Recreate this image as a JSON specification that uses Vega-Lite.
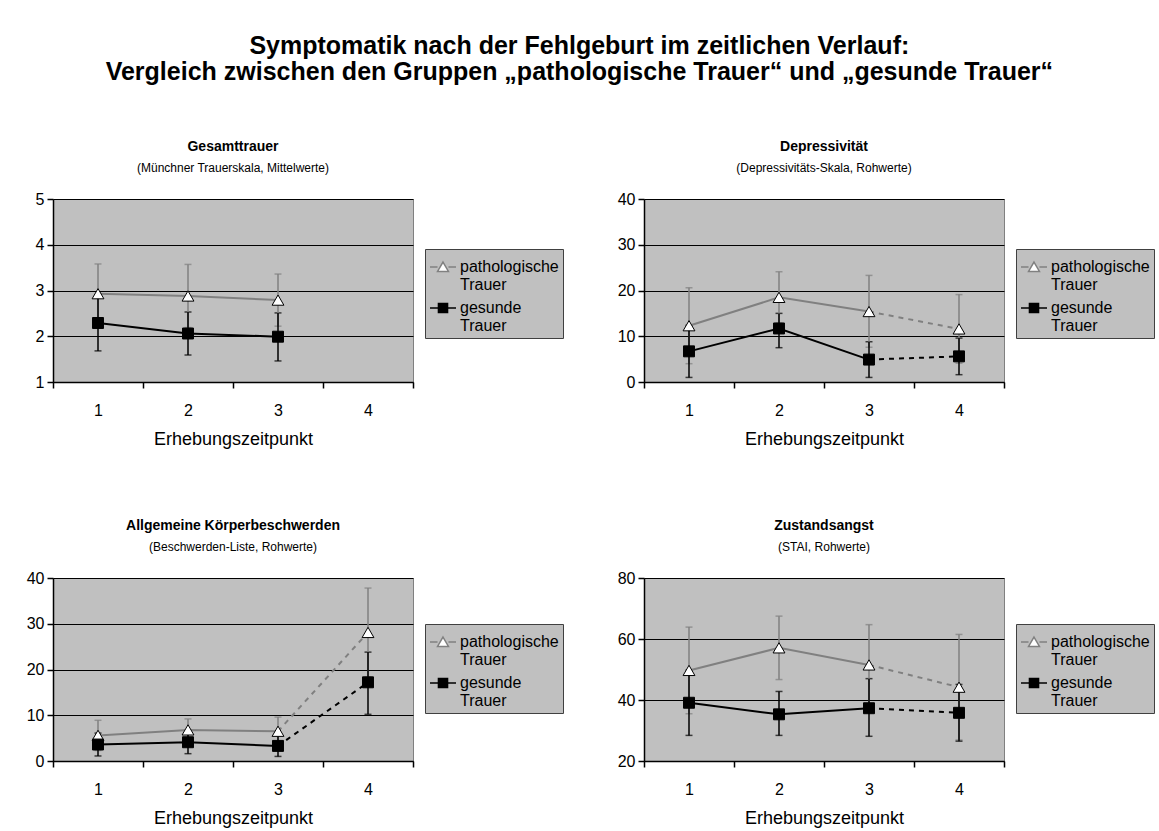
{
  "$schema": "https://vega.github.io/schema/vega-lite/v6.json",
  "background": "white",
  "padding": {"left": 25, "top": 33, "right": 2, "bottom": 5},
  "title": {
    "text": ["Symptomatik nach der Fehlgeburt im zeitlichen Verlauf:", "Vergleich zwischen den  Gruppen „pathologische Trauer“ und „gesunde Trauer“"],
    "fontSize": 25, "fontWeight": "bold", "anchor": "middle", "frame": "bounds", "color": "black", "offset": 55, "lineHeight": 26, "dx": -11
  },
  "datasets": {
    "all": [
      {"p": "A", "t": 1, "g": "pathologische Trauer", "m": 2.93, "lo": 2.28, "hi": 3.58},
      {"p": "A", "t": 2, "g": "pathologische Trauer", "m": 2.88, "lo": 2.19, "hi": 3.57},
      {"p": "A", "t": 3, "g": "pathologische Trauer", "m": 2.79, "lo": 2.22, "hi": 3.36},
      {"p": "A", "t": 1, "g": "gesunde Trauer", "m": 2.29, "lo": 1.68, "hi": 2.90},
      {"p": "A", "t": 2, "g": "gesunde Trauer", "m": 2.06, "lo": 1.59, "hi": 2.53},
      {"p": "A", "t": 3, "g": "gesunde Trauer", "m": 1.99, "lo": 1.46, "hi": 2.51},
      {"p": "B", "t": 1, "g": "pathologische Trauer", "m": 12.3, "lo": 4.0, "hi": 20.6},
      {"p": "B", "t": 2, "g": "pathologische Trauer", "m": 18.5, "lo": 12.9, "hi": 24.1},
      {"p": "B", "t": 3, "g": "pathologische Trauer", "m": 15.4, "lo": 7.6, "hi": 23.3},
      {"p": "B", "t": 4, "g": "pathologische Trauer", "m": 11.6, "lo": 4.1, "hi": 19.1},
      {"p": "B", "t": 1, "g": "gesunde Trauer", "m": 6.7, "lo": 1.0, "hi": 12.4},
      {"p": "B", "t": 2, "g": "gesunde Trauer", "m": 11.7, "lo": 7.5, "hi": 15.0},
      {"p": "B", "t": 3, "g": "gesunde Trauer", "m": 4.9, "lo": 1.0, "hi": 8.8},
      {"p": "B", "t": 4, "g": "gesunde Trauer", "m": 5.6, "lo": 1.6, "hi": 9.6},
      {"p": "C", "t": 1, "g": "pathologische Trauer", "m": 5.6, "lo": 2.3, "hi": 8.9},
      {"p": "C", "t": 2, "g": "pathologische Trauer", "m": 6.8, "lo": 4.4, "hi": 9.2},
      {"p": "C", "t": 3, "g": "pathologische Trauer", "m": 6.5, "lo": 3.4, "hi": 9.6},
      {"p": "C", "t": 4, "g": "pathologische Trauer", "m": 28.1, "lo": 18.4, "hi": 37.8},
      {"p": "C", "t": 1, "g": "gesunde Trauer", "m": 3.6, "lo": 1.1, "hi": 6.1},
      {"p": "C", "t": 2, "g": "gesunde Trauer", "m": 4.1, "lo": 1.6, "hi": 6.6},
      {"p": "C", "t": 3, "g": "gesunde Trauer", "m": 3.3, "lo": 1.0, "hi": 5.6},
      {"p": "C", "t": 4, "g": "gesunde Trauer", "m": 17.2, "lo": 10.2, "hi": 23.8},
      {"p": "D", "t": 1, "g": "pathologische Trauer", "m": 49.7, "lo": 35.5, "hi": 63.9},
      {"p": "D", "t": 2, "g": "pathologische Trauer", "m": 57.1, "lo": 46.7, "hi": 67.5},
      {"p": "D", "t": 3, "g": "pathologische Trauer", "m": 51.5, "lo": 38.3, "hi": 64.7},
      {"p": "D", "t": 4, "g": "pathologische Trauer", "m": 44.2, "lo": 26.9, "hi": 61.5},
      {"p": "D", "t": 1, "g": "gesunde Trauer", "m": 39.1, "lo": 28.4, "hi": 49.8},
      {"p": "D", "t": 2, "g": "gesunde Trauer", "m": 35.3, "lo": 28.4, "hi": 42.8},
      {"p": "D", "t": 3, "g": "gesunde Trauer", "m": 37.3, "lo": 28.1, "hi": 47.0},
      {"p": "D", "t": 4, "g": "gesunde Trauer", "m": 35.8, "lo": 26.5, "hi": 45.1}
    ]
  },
  "data": {"name": "all"},
  "columns": 2,
  "spacing": {"row": 69, "column": 52},
  "resolve": {
    "scale": {"x": "independent", "y": "independent", "color": "independent", "shape": "independent", "fill": "independent", "stroke": "independent"},
    "legend": {"shape": "independent", "fill": "independent", "stroke": "independent", "color": "independent"}
  },
  "concat": [
    {
      "width": 360, "height": 183,
      "title": {"text": "Gesamttrauer", "subtitle": "(Münchner Trauerskala, Mittelwerte)"},
      "transform": [{"filter": "datum.p == 'A'"}],
      "encoding": {
        "x": {"field": "t", "type": "ordinal", "title": "Erhebungszeitpunkt", "scale": {"type": "band", "domain": [1, 2, 3, 4], "paddingInner": 0, "paddingOuter": 0}},
        "y": {"field": "m", "type": "quantitative", "title": null, "scale": {"domain": [1, 5], "nice": false, "zero": false}, "axis": {"values": [1, 2, 3, 4, 5]}}
      },
      "layer": [
        {"mark": {"type": "errorbar", "ticks": {"size": 7, "thickness": 1.5}, "rule": {"strokeWidth": 1.5}},
         "encoding": {"y": {"field": "lo", "type": "quantitative", "title": null}, "y2": {"field": "hi"},
           "color": {"field": "g", "type": "nominal", "legend": null, "scale": {"domain": ["gesunde Trauer", "pathologische Trauer"], "range": ["#000000", "#808080"]}}}},
        {"transform": [{"filter": "datum.t <= 3"}], "mark": {"type": "line", "strokeWidth": 2},
         "encoding": {"color": {"field": "g", "type": "nominal", "legend": null}}},
        {"transform": [{"filter": "datum.t >= 3"}], "mark": {"type": "line", "strokeWidth": 2, "strokeDash": [5, 5]},
         "encoding": {"color": {"field": "g", "type": "nominal", "legend": null}}},
        {"transform": [{"filter": "datum.g == 'pathologische Trauer'"}], "mark": {"type": "point", "shape": "triangle-up", "filled": true, "fill": "white", "stroke": "black", "strokeWidth": 1, "size": 140, "opacity": 1}},
        {"transform": [{"filter": "datum.g == 'gesunde Trauer'"}], "mark": {"type": "point", "shape": "square", "filled": true, "fill": "black", "stroke": "black", "strokeWidth": 1, "size": 120, "opacity": 1}},
        {"transform": [{"filter": "datum.t > 99"}], "mark": {"type": "point", "filled": true, "opacity": 1, "strokeWidth": 1.5},
         "encoding": {
           "shape": {"field": "g", "type": "nominal", "scale": {"domain": ["pathologische Trauer", "gesunde Trauer"], "range": ["M-1,0H-0.42M0.42,0H1M0,-0.38L0.42,0.34L-0.42,0.34Z", "M-1,0H1M-0.35,-0.35H0.35V0.35H-0.35Z"]}, "legend": {"title": null, "orient": "none", "legendX": 372, "legendY": 50, "labelExpr": "split(datum.label, ' ')", "encode": {"labels": {"update": {"lineHeight": {"value": 16}}}}}},
           "fill": {"field": "g", "type": "nominal", "scale": {"domain": ["pathologische Trauer", "gesunde Trauer"], "range": ["white", "black"]}, "legend": {"title": null, "orient": "none", "legendX": 372, "legendY": 50, "labelExpr": "split(datum.label, ' ')", "encode": {"labels": {"update": {"lineHeight": {"value": 16}}}}}},
           "stroke": {"field": "g", "type": "nominal", "scale": {"domain": ["pathologische Trauer", "gesunde Trauer"], "range": ["#808080", "black"]}, "legend": {"title": null, "orient": "none", "legendX": 372, "legendY": 50, "labelExpr": "split(datum.label, ' ')", "encode": {"labels": {"update": {"lineHeight": {"value": 16}}}}}}
         }}
      ]
    },
    {
      "width": 360, "height": 183,
      "title": {"text": "Depressivität", "subtitle": "(Depressivitäts-Skala, Rohwerte)"},
      "transform": [{"filter": "datum.p == 'B'"}],
      "encoding": {
        "x": {"field": "t", "type": "ordinal", "title": "Erhebungszeitpunkt", "scale": {"type": "band", "domain": [1, 2, 3, 4], "paddingInner": 0, "paddingOuter": 0}},
        "y": {"field": "m", "type": "quantitative", "title": null, "scale": {"domain": [0, 40], "nice": false, "zero": false}, "axis": {"values": [0, 10, 20, 30, 40]}}
      },
      "layer": [
        {"mark": {"type": "errorbar", "ticks": {"size": 7, "thickness": 1.5}, "rule": {"strokeWidth": 1.5}},
         "encoding": {"y": {"field": "lo", "type": "quantitative", "title": null}, "y2": {"field": "hi"},
           "color": {"field": "g", "type": "nominal", "legend": null, "scale": {"domain": ["gesunde Trauer", "pathologische Trauer"], "range": ["#000000", "#808080"]}}}},
        {"transform": [{"filter": "datum.t <= 3"}], "mark": {"type": "line", "strokeWidth": 2},
         "encoding": {"color": {"field": "g", "type": "nominal", "legend": null}}},
        {"transform": [{"filter": "datum.t >= 3"}], "mark": {"type": "line", "strokeWidth": 2, "strokeDash": [5, 5]},
         "encoding": {"color": {"field": "g", "type": "nominal", "legend": null}}},
        {"transform": [{"filter": "datum.g == 'pathologische Trauer'"}], "mark": {"type": "point", "shape": "triangle-up", "filled": true, "fill": "white", "stroke": "black", "strokeWidth": 1, "size": 140, "opacity": 1}},
        {"transform": [{"filter": "datum.g == 'gesunde Trauer'"}], "mark": {"type": "point", "shape": "square", "filled": true, "fill": "black", "stroke": "black", "strokeWidth": 1, "size": 120, "opacity": 1}},
        {"transform": [{"filter": "datum.t > 99"}], "mark": {"type": "point", "filled": true, "opacity": 1, "strokeWidth": 1.5},
         "encoding": {
           "shape": {"field": "g", "type": "nominal", "scale": {"domain": ["pathologische Trauer", "gesunde Trauer"], "range": ["M-1,0H-0.42M0.42,0H1M0,-0.38L0.42,0.34L-0.42,0.34Z", "M-1,0H1M-0.35,-0.35H0.35V0.35H-0.35Z"]}, "legend": {"title": null, "orient": "none", "legendX": 372, "legendY": 50, "labelExpr": "split(datum.label, ' ')", "encode": {"labels": {"update": {"lineHeight": {"value": 16}}}}}},
           "fill": {"field": "g", "type": "nominal", "scale": {"domain": ["pathologische Trauer", "gesunde Trauer"], "range": ["white", "black"]}, "legend": {"title": null, "orient": "none", "legendX": 372, "legendY": 50, "labelExpr": "split(datum.label, ' ')", "encode": {"labels": {"update": {"lineHeight": {"value": 16}}}}}},
           "stroke": {"field": "g", "type": "nominal", "scale": {"domain": ["pathologische Trauer", "gesunde Trauer"], "range": ["#808080", "black"]}, "legend": {"title": null, "orient": "none", "legendX": 372, "legendY": 50, "labelExpr": "split(datum.label, ' ')", "encode": {"labels": {"update": {"lineHeight": {"value": 16}}}}}}
         }}
      ]
    },
    {
      "width": 360, "height": 183,
      "title": {"text": "Allgemeine Körperbeschwerden", "subtitle": "(Beschwerden-Liste, Rohwerte)"},
      "transform": [{"filter": "datum.p == 'C'"}],
      "encoding": {
        "x": {"field": "t", "type": "ordinal", "title": "Erhebungszeitpunkt", "scale": {"type": "band", "domain": [1, 2, 3, 4], "paddingInner": 0, "paddingOuter": 0}},
        "y": {"field": "m", "type": "quantitative", "title": null, "scale": {"domain": [0, 40], "nice": false, "zero": false}, "axis": {"values": [0, 10, 20, 30, 40]}}
      },
      "layer": [
        {"mark": {"type": "errorbar", "ticks": {"size": 7, "thickness": 1.5}, "rule": {"strokeWidth": 1.5}},
         "encoding": {"y": {"field": "lo", "type": "quantitative", "title": null}, "y2": {"field": "hi"},
           "color": {"field": "g", "type": "nominal", "legend": null, "scale": {"domain": ["gesunde Trauer", "pathologische Trauer"], "range": ["#000000", "#808080"]}}}},
        {"transform": [{"filter": "datum.t <= 3"}], "mark": {"type": "line", "strokeWidth": 2},
         "encoding": {"color": {"field": "g", "type": "nominal", "legend": null}}},
        {"transform": [{"filter": "datum.t >= 3"}], "mark": {"type": "line", "strokeWidth": 2, "strokeDash": [5, 5]},
         "encoding": {"color": {"field": "g", "type": "nominal", "legend": null}}},
        {"transform": [{"filter": "datum.g == 'pathologische Trauer'"}], "mark": {"type": "point", "shape": "triangle-up", "filled": true, "fill": "white", "stroke": "black", "strokeWidth": 1, "size": 140, "opacity": 1}},
        {"transform": [{"filter": "datum.g == 'gesunde Trauer'"}], "mark": {"type": "point", "shape": "square", "filled": true, "fill": "black", "stroke": "black", "strokeWidth": 1, "size": 120, "opacity": 1}},
        {"transform": [{"filter": "datum.t > 99"}], "mark": {"type": "point", "filled": true, "opacity": 1, "strokeWidth": 1.5},
         "encoding": {
           "shape": {"field": "g", "type": "nominal", "scale": {"domain": ["pathologische Trauer", "gesunde Trauer"], "range": ["M-1,0H-0.42M0.42,0H1M0,-0.38L0.42,0.34L-0.42,0.34Z", "M-1,0H1M-0.35,-0.35H0.35V0.35H-0.35Z"]}, "legend": {"title": null, "orient": "none", "legendX": 372, "legendY": 46, "labelExpr": "split(datum.label, ' ')", "encode": {"labels": {"update": {"lineHeight": {"value": 16}}}}}},
           "fill": {"field": "g", "type": "nominal", "scale": {"domain": ["pathologische Trauer", "gesunde Trauer"], "range": ["white", "black"]}, "legend": {"title": null, "orient": "none", "legendX": 372, "legendY": 46, "labelExpr": "split(datum.label, ' ')", "encode": {"labels": {"update": {"lineHeight": {"value": 16}}}}}},
           "stroke": {"field": "g", "type": "nominal", "scale": {"domain": ["pathologische Trauer", "gesunde Trauer"], "range": ["#808080", "black"]}, "legend": {"title": null, "orient": "none", "legendX": 372, "legendY": 46, "labelExpr": "split(datum.label, ' ')", "encode": {"labels": {"update": {"lineHeight": {"value": 16}}}}}}
         }}
      ]
    },
    {
      "width": 360, "height": 183,
      "title": {"text": "Zustandsangst", "subtitle": "(STAI, Rohwerte)"},
      "transform": [{"filter": "datum.p == 'D'"}],
      "encoding": {
        "x": {"field": "t", "type": "ordinal", "title": "Erhebungszeitpunkt", "scale": {"type": "band", "domain": [1, 2, 3, 4], "paddingInner": 0, "paddingOuter": 0}},
        "y": {"field": "m", "type": "quantitative", "title": null, "scale": {"domain": [20, 80], "nice": false, "zero": false}, "axis": {"values": [20, 40, 60, 80]}}
      },
      "layer": [
        {"mark": {"type": "errorbar", "ticks": {"size": 7, "thickness": 1.5}, "rule": {"strokeWidth": 1.5}},
         "encoding": {"y": {"field": "lo", "type": "quantitative", "title": null}, "y2": {"field": "hi"},
           "color": {"field": "g", "type": "nominal", "legend": null, "scale": {"domain": ["gesunde Trauer", "pathologische Trauer"], "range": ["#000000", "#808080"]}}}},
        {"transform": [{"filter": "datum.t <= 3"}], "mark": {"type": "line", "strokeWidth": 2},
         "encoding": {"color": {"field": "g", "type": "nominal", "legend": null}}},
        {"transform": [{"filter": "datum.t >= 3"}], "mark": {"type": "line", "strokeWidth": 2, "strokeDash": [5, 5]},
         "encoding": {"color": {"field": "g", "type": "nominal", "legend": null}}},
        {"transform": [{"filter": "datum.g == 'pathologische Trauer'"}], "mark": {"type": "point", "shape": "triangle-up", "filled": true, "fill": "white", "stroke": "black", "strokeWidth": 1, "size": 140, "opacity": 1}},
        {"transform": [{"filter": "datum.g == 'gesunde Trauer'"}], "mark": {"type": "point", "shape": "square", "filled": true, "fill": "black", "stroke": "black", "strokeWidth": 1, "size": 120, "opacity": 1}},
        {"transform": [{"filter": "datum.t > 99"}], "mark": {"type": "point", "filled": true, "opacity": 1, "strokeWidth": 1.5},
         "encoding": {
           "shape": {"field": "g", "type": "nominal", "scale": {"domain": ["pathologische Trauer", "gesunde Trauer"], "range": ["M-1,0H-0.42M0.42,0H1M0,-0.38L0.42,0.34L-0.42,0.34Z", "M-1,0H1M-0.35,-0.35H0.35V0.35H-0.35Z"]}, "legend": {"title": null, "orient": "none", "legendX": 372, "legendY": 46, "labelExpr": "split(datum.label, ' ')", "encode": {"labels": {"update": {"lineHeight": {"value": 16}}}}}},
           "fill": {"field": "g", "type": "nominal", "scale": {"domain": ["pathologische Trauer", "gesunde Trauer"], "range": ["white", "black"]}, "legend": {"title": null, "orient": "none", "legendX": 372, "legendY": 46, "labelExpr": "split(datum.label, ' ')", "encode": {"labels": {"update": {"lineHeight": {"value": 16}}}}}},
           "stroke": {"field": "g", "type": "nominal", "scale": {"domain": ["pathologische Trauer", "gesunde Trauer"], "range": ["#808080", "black"]}, "legend": {"title": null, "orient": "none", "legendX": 372, "legendY": 46, "labelExpr": "split(datum.label, ' ')", "encode": {"labels": {"update": {"lineHeight": {"value": 16}}}}}}
         }}
      ]
    }
  ],
  "config": {
    "font": "Liberation Sans",
    "view": {"fill": "#c0c0c0", "stroke": "#808080", "strokeWidth": 1},
    "axis": {"domainColor": "black", "domainWidth": 1.5, "tickColor": "black", "tickWidth": 1.5, "tickSize": 6, "labelColor": "black", "labelFontSize": 16, "titleColor": "black", "titleFontSize": 18, "titleFontWeight": "normal", "gridColor": "black", "gridWidth": 1, "gridOpacity": 1},
    "axisX": {"grid": false, "tickBand": "extent", "labelAngle": 0, "labelPadding": 14, "titlePadding": 12},
    "axisY": {"grid": true, "labelPadding": 3},
    "legend": {"fillColor": "#c0c0c0", "strokeColor": "#404040", "padding": 4, "symbolSize": 676, "symbolStrokeWidth": 1.5, "labelFontSize": 16, "labelColor": "black", "labelOffset": 3, "rowPadding": 1, "labelLimit": 300},
    "title": {"fontSize": 14, "fontWeight": "bold", "color": "black", "anchor": "middle", "frame": "group", "offset": 17, "subtitleFontSize": 12, "subtitleColor": "black", "subtitlePadding": 9}
  }
}
